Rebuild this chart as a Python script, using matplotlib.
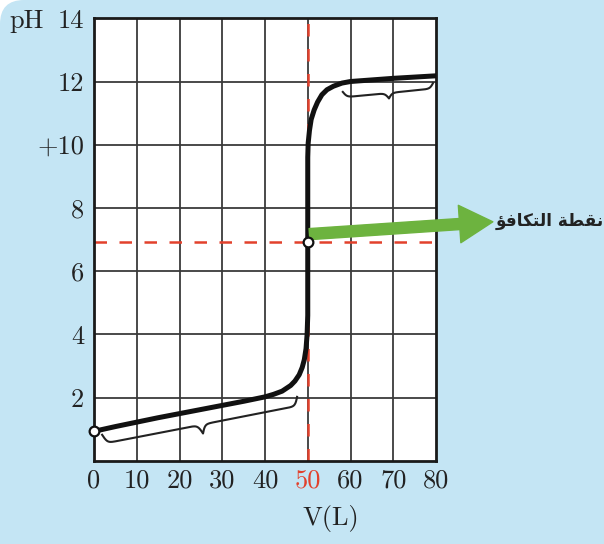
import numpy as np
import matplotlib.pyplot as plt
from matplotlib.patches import FancyBboxPatch

# titration curve
volume = [0, 5, 10, 15, 20, 25, 30, 35, 40, 42, 44, 46, 47, 48, 48.7, 49.2, 49.6, 49.85, 50.0, 50.0,
          50.0, 50.1, 50.4, 50.8, 51.5, 52.3, 53.3, 54.5, 56, 58, 60, 65, 70, 75, 80]
ph = [0.93, 1.08, 1.22, 1.36, 1.49, 1.62, 1.75, 1.88, 2.02, 2.1, 2.2, 2.38, 2.52, 2.72, 2.95, 3.2, 3.55, 4.0, 4.6, 6.93,
      9.6, 10.05, 10.45, 10.8, 11.1, 11.35, 11.58, 11.74, 11.85, 11.95, 12.0, 12.05, 12.1, 12.14, 12.18]

x_ticks = [0, 10, 20, 30, 40, 50, 60, 70, 80]
y_ticks = [2, 4, 6, 8, 10, 12, 14]
y_tick_labels = ["2", "4", "6", "8", "+10", "12", "14"]
eq_point = (50, 6.93)
start_point = (0, 0.93)
label_ar = "\uFE86\uFED3\uFE8E\uFEDC\uFE98\uFEDF\uFE8D \uFE94\uFEC4\uFED8\uFEE7"  # نقطة التكافؤ

blue = "#c4e5f4"
red = "#e2412c"
green = "#6db33f"
serif = "cmr10"

fig = plt.figure(figsize=(6.04, 5.44), dpi=100)
fig.patch.set_facecolor("white")
bg = FancyBboxPatch((0, -60), 680, 604, boxstyle="round,pad=0,rounding_size=24",
                    transform=None, facecolor=blue, edgecolor="none", zorder=-10)
fig.add_artist(bg)

ax = fig.add_axes([94 / 604, 83.3 / 544, 342 / 604, 442.4 / 544])
ax.set_xlim(0, 80)
ax.set_ylim(0, 14)
ax.set_facecolor("white")

for v in x_ticks[1:-1]:
    ax.axvline(v, color="#3a3a3a", lw=1.3, zorder=1)
for v in y_ticks[:-1]:
    ax.axhline(v, color="#3a3a3a", lw=1.3, zorder=1)
for s in ax.spines.values():
    s.set_linewidth(2)
    s.set_color("#1a1a1a")

ax.set_xticks(x_ticks)
ax.set_xticklabels([str(v) for v in x_ticks], fontfamily=serif, fontsize=19, color="#222222")
ax.set_yticks(y_ticks)
ax.set_yticklabels(y_tick_labels, fontfamily=serif, fontsize=19, color="#222222")
ax.tick_params(axis="x", length=0, pad=6)
ax.tick_params(axis="y", length=0, pad=7)
ax.get_xticklabels()[5].set_color(red)

# red dashed guide lines
ax.plot([eq_point[0], eq_point[0]], [0, 14], color=red, lw=1.8, dashes=(5, 5), zorder=2, clip_on=False)
ax.plot([0, 80], [eq_point[1], eq_point[1]], color=red, lw=1.8, dashes=(5, 5), zorder=2)

# curve
ax.plot(volume, ph, color="#111111", lw=3.6, solid_capstyle="round", solid_joinstyle="round", zorder=4)


def brace(p0, p1, h, lw=1.5):
    # curly brace between two data points, h in pixels, bulging downward
    a = ax.transData.transform(p0)
    b = ax.transData.transform(p1)
    d = b - a
    length = np.hypot(*d)
    t = d / length
    n = np.array([t[1], -t[0]])
    beta = 0.55
    u_half = np.linspace(0, length / 2, 300)
    y_half = 1 / (1 + np.exp(-beta * (u_half - u_half[0]))) + 1 / (1 + np.exp(-beta * (u_half - u_half[-1])))
    u = np.concatenate([u_half, length - u_half[::-1]])
    y = np.concatenate([y_half, y_half[::-1]])
    y = (y - y.min()) / (y.max() - y.min()) * h
    pts = a + np.outer(u, t) + np.outer(y, n)
    data = ax.transData.inverted().transform(pts)
    ax.plot(data[:, 0], data[:, 1], color="#222222", lw=lw, zorder=3)


brace((1.9, 0.82), (47.5, 2.02), 18)
brace((58.2, 11.67), (79.3, 11.95), 11)

# equivalence arrow
ax.annotate("", xy=(93.3, 7.56), xytext=(50.4, 7.17),
            arrowprops=dict(arrowstyle="simple,tail_width=0.8,head_width=2.7,head_length=2.4",
                            mutation_scale=10, color=green, shrinkA=0, shrinkB=0),
            annotation_clip=False, zorder=5)

ax.plot(*start_point, "o", ms=7, mfc="white", mec="#111111", mew=1.6, zorder=6, clip_on=False)
ax.plot(*eq_point, "o", ms=7, mfc="white", mec="#111111", mew=1.6, zorder=6, clip_on=False)

fig.text(496 / 604, 1 - 221 / 544, label_ar, fontsize=12.2, fontweight="bold",
         family="DejaVu Sans", ha="left", va="center", color="#222222")
fig.text(27 / 604, 1 - 21 / 544, "pH", fontsize=19, family=serif, ha="center", va="center", color="#222222")
fig.text(331 / 604, 1 - 518 / 544, "V(L)", fontsize=19, family=serif, ha="center", va="center", color="#222222")

fig.savefig("out.png", dpi=100)
